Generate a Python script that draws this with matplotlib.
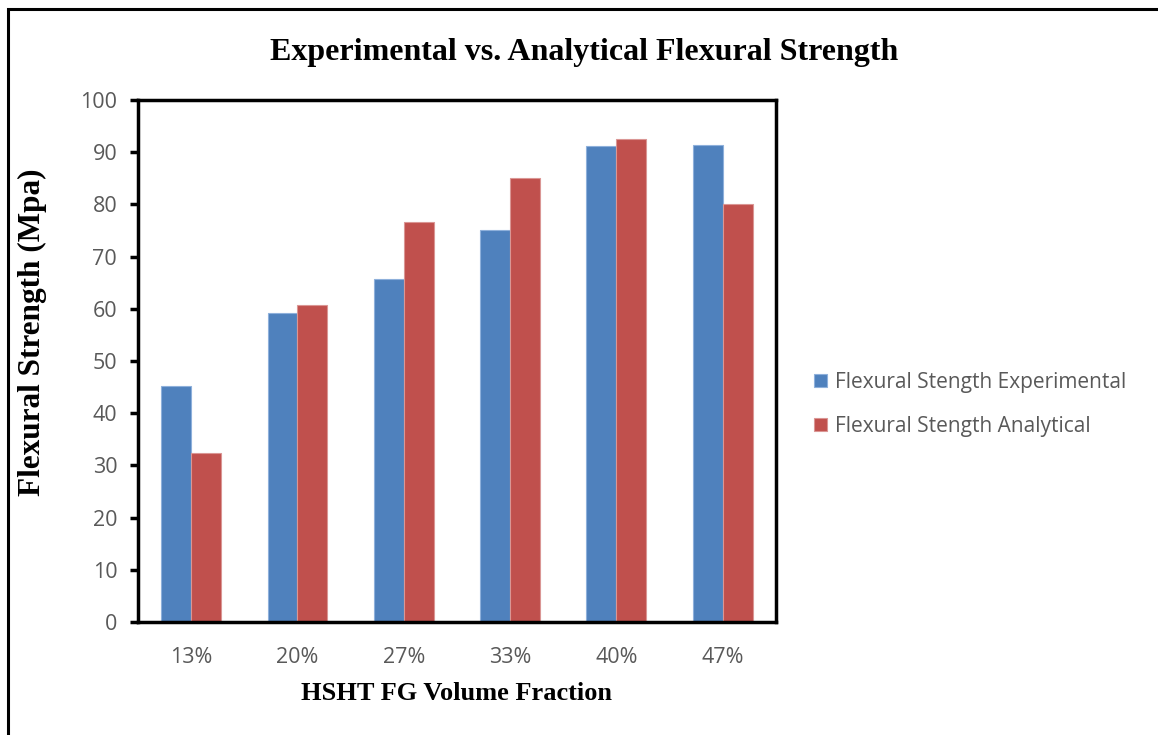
import numpy as np
import matplotlib.pyplot as plt
from matplotlib.patches import Rectangle

fractions = ['13%', '20%', '27%', '33%', '40%', '47%']
experimental = [45.2, 59.1, 65.8, 75.0, 91.2, 91.4]
analytical = [32.3, 60.7, 76.6, 85.0, 92.5, 80.1]

blue = '#4F81BD'
red = '#C0504D'
grey = '#595959'

fig = plt.figure(figsize=(11.58, 7.35), dpi=100)
ax = fig.add_axes([0.1192, 0.1537, 0.5508, 0.7103])

x = np.arange(len(fractions))
w = 0.282
ax.bar(x - w / 2, experimental, w, color=blue, edgecolor='#8EB0DB', linewidth=0.8,
       label='Flexural Stength Experimental')
ax.bar(x + w / 2, analytical, w, color=red, edgecolor='#DA9694', linewidth=0.8,
       label='Flexural Stength Analytical')

ax.set_xlim(-0.5, len(fractions) - 0.5)
ax.set_ylim(0, 100)
ax.set_yticks(range(0, 101, 10))
ax.set_xticks(x)
ax.set_xticklabels(fractions)
for s in ax.spines.values():
    s.set_linewidth(2.5)
ax.tick_params(axis='y', length=6, width=2.5, labelsize=15.5, labelcolor=grey, pad=9)
ax.tick_params(axis='x', length=0, labelsize=15.5, labelcolor=grey, pad=18)
for lab in ax.get_xticklabels() + ax.get_yticklabels():
    lab.set_family('Open Sans')

ax.set_xlabel('HSHT FG Volume Fraction', family='Liberation Serif', fontweight='bold',
              fontsize=19, labelpad=10)
ax.set_ylabel('Flexural Strength (Mpa)', family='Liberation Serif', fontweight='bold',
              fontsize=22.5)
ax.yaxis.set_label_coords(-0.142, 0.556)
fig.text(0.504, 0.928, 'Experimental vs. Analytical Flexural Strength', ha='center', va='center',
         family='Liberation Serif', fontweight='bold', fontsize=23)

leg = fig.legend(loc='center left', bbox_to_anchor=(0.687, 0.45), frameon=False,
                 prop={'family': 'Open Sans', 'size': 15}, handlelength=0.6,
                 handleheight=0.6, handletextpad=0.4, labelspacing=1.1)
for t in leg.get_texts():
    t.set_color(grey)

# outer chart border
fig.patches.append(Rectangle((8 / 1158, -0.05), 1.1, 1 - 9 / 735 + 0.05,
                             transform=fig.transFigure, fill=False,
                             edgecolor='black', linewidth=2.2))

fig.savefig('out.png', dpi=100)
